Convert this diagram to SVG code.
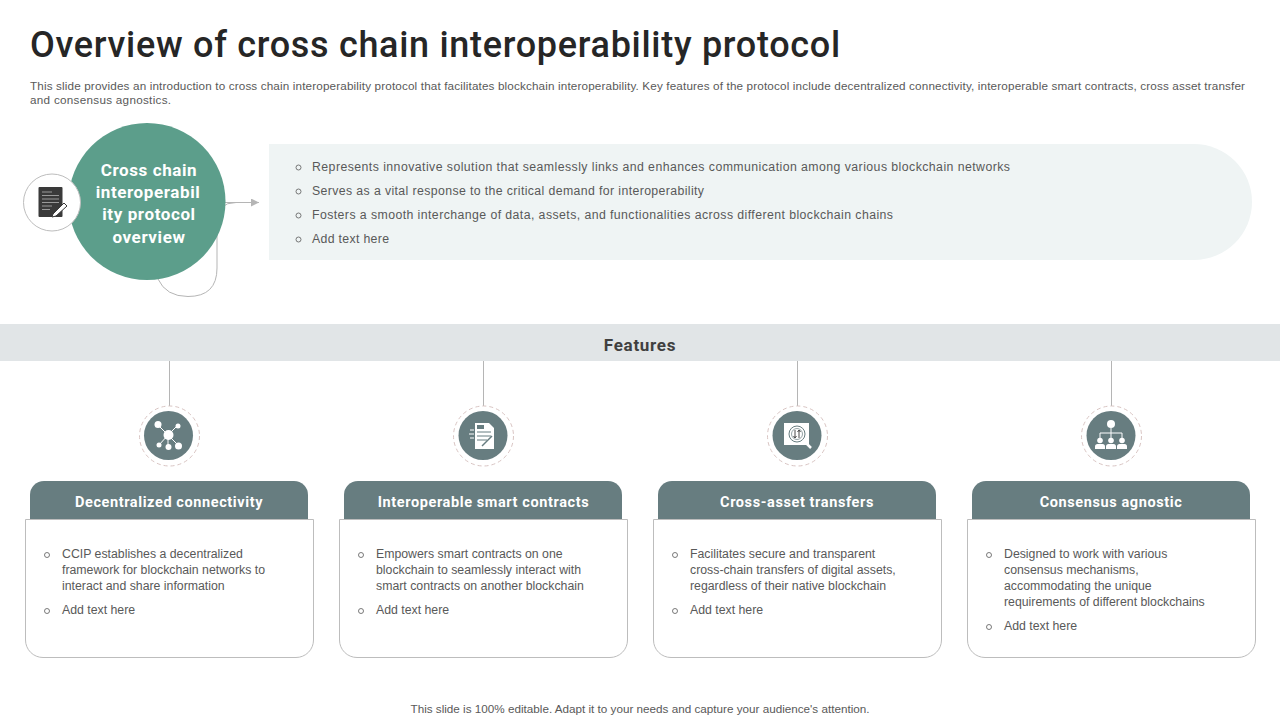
<svg xmlns="http://www.w3.org/2000/svg" width="1280" height="720" viewBox="0 0 1280 720">
<style>
text{font-family:"Liberation Sans",Arial,sans-serif;fill:#595959;font-size:12px}
.body{font-size:12.3px}
.title{font-family:Roboto,"Liberation Sans",sans-serif;font-size:36px;font-weight:500;fill:#262626;letter-spacing:1.9px}
.small{font-size:11.7px}
.h{font-family:Roboto,"Liberation Sans",sans-serif;font-weight:700;fill:#fff;font-size:14.5px;text-anchor:middle;letter-spacing:.6px}
.c{font-family:Roboto,"Liberation Sans",sans-serif;font-weight:700;fill:#fff;font-size:17px;text-anchor:middle;letter-spacing:.6px}
.b{fill:none;stroke:#595959;stroke-width:.8}
.line{fill:none;stroke:#b5b5b5;stroke-width:1}
.card{fill:#fff;stroke:#bdbdbd;stroke-width:1}
.head{fill:#677d80}
.ring{fill:#fff;stroke:#d9c5c3;stroke-width:1;stroke-dasharray:4 3}
.disc{fill:#677d80}
.w{fill:#fff}
.wl{fill:none;stroke:#fff;stroke-width:1}
.gl{fill:none;stroke:#677d80;stroke-width:1}
</style>
<defs>
<marker id="arr" markerWidth="9" markerHeight="8" refX="8" refY="4" orient="auto" markerUnits="userSpaceOnUse"><path d="M0 0L8 4L0 8Z" fill="#b5b5b5"/></marker>
<g id="person"><circle cx="0" cy="-4.5" r="2.8" class="w"/><path d="M-5 4V1.5Q-5-1 -2.5-1H2.5Q5-1 5 1.5V4Z" class="w"/></g>
</defs>
<g id="title">
<text class="title" x="30" y="57" textLength="812">Overview of cross chain interoperability protocol</text>
<text class="small" x="30" y="90" textLength="1215">This slide provides an introduction to cross chain interoperability protocol that facilitates blockchain interoperability. Key features of the protocol include decentralized connectivity, interoperable smart contracts, cross asset transfer</text>
<text class="small" x="30" y="104" textLength="141">and consensus agnostics.</text>
</g>
<g id="connectors">
<path class="line" d="M225 202.500H236Q217 202.500 217 222V268Q217 296.500 188 296.500Q166 296.500 158 279"/>
<path class="line" d="M225 202.500H259" marker-end="url(#arr)"/>
<path class="line" d="M169.500 361V406M483.500 361V406M797.500 361V406M1111.500 361V406"/>
</g>
<g id="overview-node">
<circle cx="147" cy="201.500" r="78.500" fill="#5c9e8b"/>
<text class="c"><tspan x="149" y="175.500">Cross chain</tspan><tspan x="148" y="197.500">interoperabil</tspan><tspan x="149" y="219.500">ity protocol</tspan><tspan x="149" y="242.500">overview</tspan></text>
</g>
<g id="overview-icon">
<circle cx="52" cy="202.500" r="28.500" fill="#fff" stroke="#bdbdbd"/>
<rect x="38.500" y="187" width="24" height="30" rx="1" fill="#3a3a3a"/>
<path d="M42 192H52M42 195.500H59M42 199H59M42 202.500H59M42 206H52M42 209.500H50" stroke="#9a9a9a" stroke-width="1" fill="none"/>
<path d="M53 214L64 203L67 206L56 216L52 217Z" fill="#fff" stroke="#3a3a3a"/>
</g>
<g id="intro-panel">
<path d="M269 144H1194A58 58 0 0 1 1194 260H269Z" fill="#eff4f4"/>
<circle class="b" cx="298.500" cy="167.500" r="2.500"/><circle class="b" cx="298.500" cy="191.500" r="2.500"/><circle class="b" cx="298.500" cy="215.500" r="2.500"/><circle class="b" cx="298.500" cy="239.500" r="2.500"/>
<text class="body" x="312" y="171" textLength="698">Represents innovative  solution that seamlessly links and enhances communication among various  blockchain networks</text>
<text class="body" x="312" y="195" textLength="392">Serves as a vital response to the critical demand for interoperability</text>
<text class="body" x="312" y="219" textLength="581">Fosters a smooth interchange of data, assets, and functionalities across different blockchain chains</text>
<text class="body" x="312" y="243" textLength="77">Add text here</text>
</g>
<g id="features-band">
<rect x="0" y="324" width="1280" height="37" fill="#e1e5e7"/>
<text x="640" y="350.500" text-anchor="middle" style="font-family:Roboto,'Liberation Sans',sans-serif;font-weight:700;font-size:17px;fill:#404040;letter-spacing:.7px">Features</text>
</g>
<g id="feature-1">
<circle class="ring" cx="169.500" cy="436" r="30"/><circle class="disc" cx="168.500" cy="435.500" r="24.500"/>
<path class="wl" d="M168 435L158 425M168 435L178 425M168 435L159 445M168 435V447M168 435L178 445"/>
<circle class="w" cx="158" cy="424.500" r="3.500"/><circle class="w" cx="178" cy="426" r="2.500"/><circle class="w" cx="168.500" cy="435" r="5"/><circle class="w" cx="159" cy="445" r="2.500"/><circle class="w" cx="168.500" cy="447" r="3"/><circle class="w" cx="178.500" cy="446" r="3.500"/>
<path class="card" d="M25.500 519.500H313.500V640A17.500 17.500 0 0 1 296 657.500H43A17.500 17.500 0 0 1 25.500 640Z"/>
<path class="head" d="M30 519V495A14 14 0 0 1 44 481H294A14 14 0 0 1 308 495V519Z"/>
<text class="h" x="169" y="507">Decentralized connectivity</text>
<circle class="b" cx="47" cy="555" r="2.500"/><circle class="b" cx="47" cy="611" r="2.500"/>
<text class="body"><tspan x="62" y="558">CCIP establishes a decentralized</tspan><tspan x="62" y="574">framework for blockchain networks to</tspan><tspan x="62" y="590">interact and share information</tspan><tspan x="62" y="614">Add text here</tspan></text>
</g>
<g id="feature-2">
<circle class="ring" cx="483.500" cy="436" r="30"/><circle class="disc" cx="483" cy="435.500" r="24.500"/>
<path class="w" d="M475 423H489L494 428V449H475Z"/>
<rect x="477" y="425" width="7" height="4" fill="#677d80"/>
<path class="gl" d="M477 432H491M477 436H491M477 440H487"/>
<path d="M482 446L492 436" stroke="#677d80" stroke-width="1.500" fill="none"/>
<path class="wl" d="M470 430H474M469 434H474M470 438H474"/>
<path class="card" d="M339.500 519.500H627.500V640A17.500 17.500 0 0 1 610 657.500H357A17.500 17.500 0 0 1 339.500 640Z"/>
<path class="head" d="M344 519V495A14 14 0 0 1 358 481H608A14 14 0 0 1 622 495V519Z"/>
<text class="h" x="483.500" y="507">Interoperable smart contracts</text>
<circle class="b" cx="361" cy="555" r="2.500"/><circle class="b" cx="361" cy="611" r="2.500"/>
<text class="body"><tspan x="376" y="558">Empowers smart contracts on one</tspan><tspan x="376" y="574">blockchain to seamlessly interact with</tspan><tspan x="376" y="590">smart contracts on another blockchain</tspan><tspan x="376" y="614">Add text here</tspan></text>
</g>
<g id="feature-3">
<circle class="ring" cx="797.500" cy="436" r="30"/><circle class="disc" cx="797" cy="435.500" r="24.500"/>
<rect x="784" y="423" width="25" height="22" class="w"/>
<circle cx="797" cy="434" r="8" fill="#fff" stroke="#677d80"/><circle cx="797" cy="434" r="5.500" fill="#fff" stroke="#677d80" stroke-width=".7"/>
<path d="M795 430V438M793.500 436L795 438L796.500 436M799 438V430M797.500 432L799 430L800.500 432" stroke="#4a4a4a" fill="none"/>
<path d="M803 440L811 448" stroke="#fff" stroke-width="2.500"/>
<path class="card" d="M653.500 519.500H941.500V640A17.500 17.500 0 0 1 924 657.500H671A17.500 17.500 0 0 1 653.500 640Z"/>
<path class="head" d="M658 519V495A14 14 0 0 1 672 481H922A14 14 0 0 1 936 495V519Z"/>
<text class="h" x="797" y="507">Cross-asset transfers</text>
<circle class="b" cx="675" cy="555" r="2.500"/><circle class="b" cx="675" cy="611" r="2.500"/>
<text class="body"><tspan x="690" y="558">Facilitates secure and transparent</tspan><tspan x="690" y="574">cross-chain transfers of digital assets,</tspan><tspan x="690" y="590">regardless of their native blockchain</tspan><tspan x="690" y="614">Add text here</tspan></text>
</g>
<g id="feature-4">
<circle class="ring" cx="1111.500" cy="436" r="30"/><circle class="disc" cx="1111" cy="435.500" r="24.500"/>
<circle class="w" cx="1111" cy="424" r="4"/>
<path class="wl" d="M1111 428V433M1100 438V433H1122V438M1111 433V438"/>
<use href="#person" x="1100" y="445"/><use href="#person" x="1111" y="445"/><use href="#person" x="1122" y="445"/>
<path class="card" d="M967.500 519.500H1255.500V640A17.500 17.500 0 0 1 1238 657.500H985A17.500 17.500 0 0 1 967.500 640Z"/>
<path class="head" d="M972 519V495A14 14 0 0 1 986 481H1236A14 14 0 0 1 1250 495V519Z"/>
<text class="h" x="1111" y="507">Consensus agnostic</text>
<circle class="b" cx="989" cy="555" r="2.500"/><circle class="b" cx="989" cy="627" r="2.500"/>
<text class="body"><tspan x="1004" y="558">Designed to work with various</tspan><tspan x="1004" y="574">consensus mechanisms,</tspan><tspan x="1004" y="590">accommodating the unique</tspan><tspan x="1004" y="606">requirements of different blockchains</tspan><tspan x="1004" y="630">Add text here</tspan></text>
</g>
<g id="footer">
<text class="small" x="640" y="713" text-anchor="middle">This slide is 100% editable. Adapt it to your needs and capture your audience's attention.</text>
</g>
</svg>
